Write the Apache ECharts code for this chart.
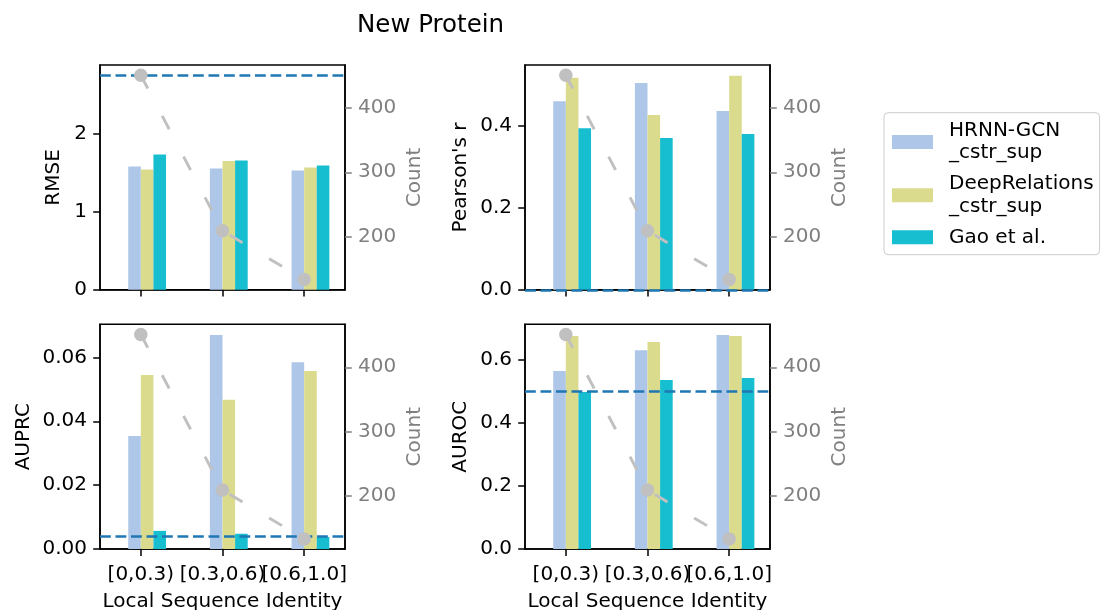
<!DOCTYPE html>
<html><head><meta charset="utf-8">
<script src="https://cdn.jsdelivr.net/npm/echarts@6/dist/echarts.min.js"></script>
<style>html,body{margin:0;padding:0;background:#fff}#c{width:1102px;height:610px}</style>
</head><body><div id="c"></div>
<script>
// ---------------- data ----------------
const categories = ['[0,0.3)', '[0.3,0.6)', '[0.6,1.0]'];
const seriesNames = ['HRNN-GCN\n_cstr_sup', 'DeepRelations\n_cstr_sup', 'Gao et al.'];
const counts = [451, 209, 133];

const rmseHRNN = [1.585, 1.559, 1.533];
const rmseDR   = [1.546, 1.653, 1.572];
const rmseGao  = [1.739, 1.662, 1.598];

const pearsonHRNN = [0.460, 0.504, 0.436];
const pearsonDR   = [0.517, 0.426, 0.522];
const pearsonGao  = [0.394, 0.370, 0.380];

const auprcHRNN = [0.0354, 0.0670, 0.0585];
const auprcDR   = [0.0545, 0.0467, 0.0557];
const auprcGao  = [0.0057, 0.0048, 0.0038];

const aurocHRNN = [0.563, 0.629, 0.677];
const aurocDR   = [0.674, 0.655, 0.674];
const aurocGao  = [0.497, 0.535, 0.541];

const metricNames = ['RMSE', "Pearson's r", 'AUPRC', 'AUROC'];
const baselines = [2.75, 0, 0.0039, 0.5];
const leftTicks = [[0, 1, 2], [0, 0.2, 0.4], [0, 0.02, 0.04, 0.06], [0, 0.2, 0.4, 0.6]];
const leftDecimals = [0, 1, 2, 1];
const countTicks = [200, 300, 400];
const countName = 'Count';
const xName = 'Local Sequence Identity';
const titleText = 'New Protein';

// ---------------- styles ----------------
const FONT = 'DejaVu Sans';
const FS = 20;
const colors = ['#aec7e8', '#dbdb8d', '#17becf'];
const grey = '#808080';
const silver = '#c0c0c0';
const panels = [
  {left: 100, top: 65},
  {left: 525, top: 65},
  {left: 100, top: 324.3},
  {left: 525, top: 324.3}
];
const PW = 245, PH = 224.8;
const leftNameGap = [36, 54, 66.5, 54];
const metricData = [
  [rmseHRNN, rmseDR, rmseGao],
  [pearsonHRNN, pearsonDR, pearsonGao],
  [auprcHRNN, auprcDR, auprcGao],
  [aurocHRNN, aurocDR, aurocGao]
];

const grid = [], xAxis = [], yAxis = [], series = [];
const cMin = Math.min(...counts), cMax = Math.max(...counts);
const cPad = (cMax - cMin) * 0.05;

panels.forEach((pp, p) => {
  grid.push({left: pp.left, top: pp.top, width: PW, height: PH, show: true,
    containLabel: false, outerBoundsMode: 'none',
    borderColor: '#000', borderWidth: 1.5, backgroundColor: 'transparent'});
  const bottomRow = p >= 2;
  xAxis.push({
    type: 'category', gridIndex: p, data: categories, boundaryGap: true,
    axisLine: {show: true, lineStyle: {color: '#000', width: 1.5}},
    axisTick: {show: true, alignWithLabel: true, length: 6.8, lineStyle: {color: '#000', width: 1.5}},
    axisLabel: {show: bottomRow, margin: 15.5, color: '#000', fontFamily: FONT, fontSize: FS, interval: 0},
    name: bottomRow ? xName : '', nameLocation: 'middle', nameGap: 42.5,
    nameTextStyle: {color: '#000', fontFamily: FONT, fontSize: FS},
    splitLine: {show: false}
  });
  const allVals = metricData[p].flat().concat([baselines[p]]);
  const vmax = Math.max(...allVals) * 1.05;
  const dec = leftDecimals[p];
  yAxis.push({
    type: 'value', gridIndex: p, position: 'left', min: 0, max: vmax,
    axisLine: {show: true, lineStyle: {color: '#000', width: 1.5}},
    axisTick: {show: true, length: 6.8, lineStyle: {color: '#000', width: 1.5}, customValues: leftTicks[p]},
    axisLabel: {show: true, margin: 13, color: '#000', fontFamily: FONT, fontSize: FS,
      customValues: leftTicks[p], formatter: v => Number(v).toFixed(dec)},
    splitLine: {show: false},
    name: metricNames[p], nameLocation: 'middle', nameGap: leftNameGap[p], nameRotate: 90,
    nameTextStyle: {color: '#000', fontFamily: FONT, fontSize: FS}
  });
  yAxis.push({
    type: 'value', gridIndex: p, position: 'right', min: cMin - cPad, max: cMax + cPad,
    axisLine: {show: true, lineStyle: {color: '#000', width: 1.5}},
    axisTick: {show: true, length: 6.8, lineStyle: {color: grey, width: 1.5}, customValues: countTicks},
    axisLabel: {show: true, margin: 13, color: grey, fontFamily: FONT, fontSize: FS,
      customValues: countTicks, formatter: v => String(Math.round(v))},
    splitLine: {show: false},
    name: countName, nameLocation: 'middle', nameGap: 60, nameRotate: 90,
    nameTextStyle: {color: grey, fontFamily: FONT, fontSize: FS}
  });
  // padding series so the three bars sit right of the tick like the original
  series.push({type: 'bar', name: '_pad' + p, xAxisIndex: p, yAxisIndex: 2 * p,
    data: categories.map(() => null), barWidth: 12.6, barGap: '0%', silent: true});
  metricData[p].forEach((vals, k) => {
    const s = {
      type: 'bar', name: seriesNames[k], xAxisIndex: p, yAxisIndex: 2 * p,
      data: vals, barWidth: 12.6, barGap: '0%', itemStyle: {color: colors[k]}, z: 2, silent: true
    };
    if (k === 2) {
      s.markLine = {
        silent: true, symbol: ['none', 'none'], label: {show: false}, z: 5, precision: 8,
        lineStyle: {color: '#1f77b4', width: 2.6, type: [10.8, 4.7]},
        data: [{yAxis: baselines[p]}], animation: false
      };
    }
    series.push(s);
  });
  series.push({
    type: 'line', name: countName + p, xAxisIndex: p, yAxisIndex: 2 * p + 1, data: counts,
    symbol: 'circle', symbolSize: 13.5, z: 8, silent: true,
    itemStyle: {color: silver},
    lineStyle: {color: silver, width: 2.9, type: [15, 31], dashOffset: 0}
  });
});

const chart = echarts.init(document.getElementById('c'), null, {renderer: 'canvas'});
chart.setOption({
  animation: false,
  backgroundColor: '#fff',
  textStyle: {fontFamily: FONT},
  title: {text: titleText, left: 357, top: 13.5, padding: 0,
    textStyle: {fontFamily: FONT, fontSize: 24.5, fontWeight: 'normal', color: '#000'}},
  legend: {
    data: seriesNames.map(n => ({name: n})),
    orient: 'vertical', left: 884, top: 112.7,
    padding: [6.5, 6, 6, 8],
    itemWidth: 41, itemHeight: 14, itemGap: 8, icon: 'rect',
    backgroundColor: '#fff', borderColor: '#cccccc', borderWidth: 1, borderRadius: 4,
    selectedMode: false,
    textStyle: {fontFamily: FONT, fontSize: FS, color: '#000', lineHeight: 22.7, padding: [0, 0, 0, 11]}
  },
  grid, xAxis, yAxis, series
});
</script></body></html>
